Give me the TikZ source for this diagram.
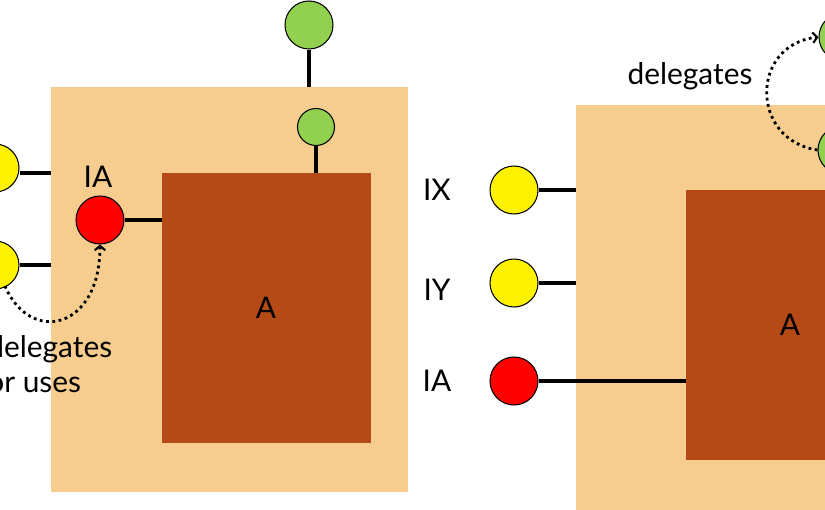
\documentclass[tikz,border=0pt]{standalone}
\usepackage{fontspec}
\setmainfont{Lato}
\usetikzlibrary{positioning,arrows.meta}
\definecolor{tan}{HTML}{F6CD8E}
\definecolor{brick}{HTML}{B64A17}
\definecolor{leaf}{HTML}{92D050}
\begin{document}
\begin{tikzpicture}[x=0.02cm,y=-0.02cm,
    comp/.style={fill=brick,draw=none},
    box/.style={fill=tan,draw=none},
    port/.style={circle,draw=black,line width=0.6pt,minimum size=0.96cm,inner sep=0pt},
    sport/.style={circle,draw=black,line width=0.6pt,minimum size=0.74cm,inner sep=0pt},
    wire/.style={line width=1.8pt},
    deleg/.style={line width=1.6pt,dotted,-{Straight Barb[length=2.5pt,width=6pt,line width=1.2pt]}},
    lbl/.style={font=\fontsize{17}{20}\selectfont}]
\useasboundingbox (0,0) rectangle (825,510);
\clip (0,0) rectangle (825,510);
% left
\fill[box] (51,87) rectangle (408,492);
\fill[comp] (162,173) rectangle (371,443);
\node[lbl] (lA) at (266,308) {A};
\node[port,fill=leaf] (lg1) at (309,25) {};
\node[sport,fill=leaf] (lg2) at (316,127) {};
\coordinate (lgt) at (309,87);
\coordinate (lct) at (316,173);
\draw[wire] (lg1) -- (lgt);
\draw[wire] (lg2) -- (lct);
\node[port,fill=red] (lia) at (100,220) {};
\node[lbl] (lial) at (98,177) {IA};
\coordinate (lcl) at (162,220);
\draw[wire] (lia) -- (lcl);
\node[port,fill=yellow] (lx) at (-5,168) {};
\node[port,fill=yellow] (ly) at (-5,265) {};
\coordinate (lxb) at (51,173);
\coordinate (lyb) at (51,265);
\draw[wire] (lx.east |- lxb) -- (lxb);
\draw[wire] (ly) -- (lyb);
\draw[deleg] (5,286) .. controls (30,345) and (100,330) .. (lia.south);
\node[lbl,anchor=west,align=left,inner sep=0pt] (ltxt) at (-13,364) {delegates\\or uses};
% right
\fill[box] (576,105) rectangle (840,520);
\fill[comp] (686,190) rectangle (840,460);
\node[lbl] (rA) at (790,325) {A};
\node[port,fill=yellow] (rx) at (514,190) {};
\node[port,fill=yellow] (ry) at (514,283) {};
\node[port,fill=red] (ria) at (514,381) {};
\node[lbl] (rxl) at (437,190) {IX};
\node[lbl] (ryl) at (437,290) {IY};
\node[lbl] (rial) at (437,381) {IA};
\coordinate (rxb) at (576,190);
\coordinate (ryb) at (576,283);
\coordinate (rcl) at (686,381);
\draw[wire] (rx) -- (rxb);
\draw[wire] (ry) -- (ryb);
\draw[wire] (ria) -- (rcl);
\node[port,fill=leaf] (rg1) at (843,37) {};
\node[port,fill=leaf] (rg2) at (842,150) {};
\draw[deleg] (rg2.west) .. controls (750,140) and (750,45) .. (rg1.west);
\node[lbl] (rtxt) at (690,76) {delegates};
\end{tikzpicture}
\end{document}
